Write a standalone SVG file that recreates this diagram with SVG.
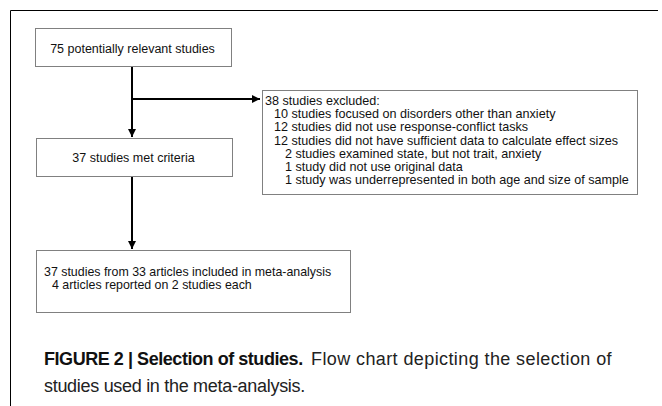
<svg xmlns="http://www.w3.org/2000/svg" width="662" height="406" viewBox="0 0 662 406">
<defs>
<style>
.box{fill:#fff;stroke:#808080;stroke-width:1}
.t{font-family:"Liberation Sans",Arial,sans-serif;font-size:12.6px;fill:#111}
.m{font-family:"Liberation Sans",Arial,sans-serif;font-size:12.5px;fill:#111}
.s{font-family:"Liberation Sans",Arial,sans-serif;font-size:12.4px;fill:#111}
.cap{font-family:"Liberation Sans",Arial,sans-serif;font-size:18px;fill:#222}
.ln{stroke:#000;stroke-width:2;fill:none}
</style>
<marker id="ah" markerWidth="8" markerHeight="8" viewBox="0 0 8 8" refX="8" refY="4" orient="auto" markerUnits="userSpaceOnUse">
<path d="M0,0 L8,4 L0,8 z" fill="#000"/>
</marker>
</defs>
<rect width="662" height="406" fill="#fff"/>
<g id="frame">
<path d="M10.5,406 V10.5 H658" stroke="#000" stroke-width="1" fill="none"/>
</g>
<g id="connectors">
<line class="ln" x1="132" y1="66" x2="132" y2="137" marker-end="url(#ah)"/>
<line class="ln" x1="132" y1="99" x2="260" y2="99" marker-end="url(#ah)"/>
<line class="ln" x1="132" y1="176" x2="132" y2="249" marker-end="url(#ah)"/>
</g>
<g id="n1">
<rect class="box" x="35.5" y="28.5" width="196" height="38"/>
<text class="m" x="132.5" y="52.5" text-anchor="middle">75 potentially relevant studies</text>
</g>
<g id="n2">
<rect class="box" x="36.5" y="138.5" width="196" height="38"/>
<text class="m" x="133.5" y="161.5" text-anchor="middle">37 studies met criteria</text>
</g>
<g id="n3">
<rect class="box" x="262.5" y="90.5" width="375" height="104"/>
<text class="t" x="265" y="105">38 studies excluded:</text>
<text class="t" x="274" y="118.2">10 studies focused on disorders other than anxiety</text>
<text class="t" x="274" y="131.4">12 studies did not use response-conflict tasks</text>
<text class="t" x="274" y="144.6">12 studies did not have sufficient data to calculate effect sizes</text>
<text class="t" x="285" y="157.8">2 studies examined state, but not trait, anxiety</text>
<text class="t" x="285" y="171">1 study did not use original data</text>
<text class="t" x="285" y="184.2">1 study was underrepresented in both age and size of sample</text>
</g>
<g id="n4">
<rect class="box" x="36.5" y="250.5" width="314" height="62"/>
<text class="s" x="44" y="276">37 studies from 33 articles included in meta-analysis</text>
<text class="s" x="52" y="289">4 articles reported on 2 studies each</text>
</g>
<g id="caption">
<text class="cap" x="44" y="365"><tspan font-weight="bold" fill="#111" letter-spacing="-0.45">FIGURE 2 | Selection of studies.</tspan><tspan x="311" letter-spacing="0.4">Flow chart depicting the selection of</tspan></text>
<text class="cap" x="44" y="392" letter-spacing="-0.3">studies used in the meta-analysis.</text>
</g>
</svg>
